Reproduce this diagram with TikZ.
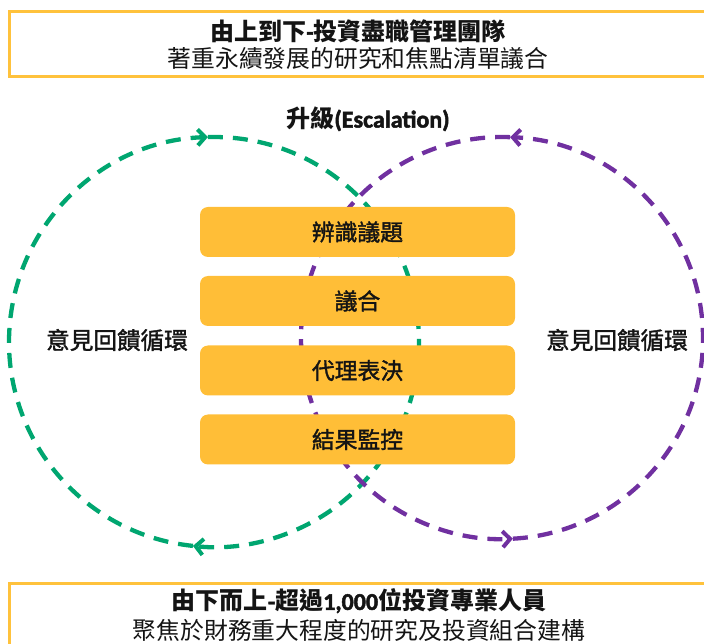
\documentclass[tikz,border=0pt]{standalone}
\usepackage{fontspec}
\usetikzlibrary{arrows.meta}
\newfontfamily\cjk{Noto Sans CJK TC}
\newfontfamily\cjkmed[FakeBold=1.6]{Noto Sans CJK TC}
\newfontfamily\calbold[FakeBold=2]{Carlito}
\definecolor{boxgold}{RGB}{255,190,55}
\definecolor{linegold}{RGB}{255,194,60}
\definecolor{loopgreen}{RGB}{0,166,112}
\definecolor{looppurple}{RGB}{112,48,160}
\definecolor{txt}{RGB}{20,20,20}
\tikzset{
  banner/.style={draw=linegold, line width=3pt},
  titleA/.style={text=txt, font=\cjk\bfseries\fontsize{24}{28}\selectfont, inner sep=0pt},
  titleB/.style={text=txt, font=\cjk\fontsize{23.8}{28}\selectfont, inner sep=0pt},
  stepbox/.style={fill=boxgold, rounded corners=8pt, minimum width=315pt, minimum height=50pt,
    inner sep=0pt, text=txt, font=\cjkmed\fontsize{22.8}{26}\selectfont},
  looplabel/.style={text=txt, font=\cjkmed\fontsize{23.6}{27}\selectfont, inner sep=0pt},
  loopline/.style={line width=4.3pt, dash pattern=on 15pt off 10pt,
    -{Straight Barb[length=7.5pt,width=16pt,line width=4pt]}},
}
\begin{document}
\begin{tikzpicture}[x=1pt,y=1pt]
\useasboundingbox (0,0) rectangle (704,643);
\begin{scope}
\clip (0,0) rectangle (704,643);
% banners
\draw[banner] (9,631) rectangle (730,566);
\draw[banner] (9,60) rectangle (730,-30);
% loops
\coordinate (gc) at (214,301);
\coordinate (pc) at (502,305);
\draw[loopline, loopgreen] ([shift={(264.1:205)}]gc) arc[start angle=264.1, end angle=91.7, radius=205];
\draw[loopline, loopgreen] ([shift={(91.7:205)}]gc) arc[start angle=91.7, end angle=-95.9, radius=205];
\draw[loopline, looppurple] ([shift={(-86.9:201)}]pc) arc[start angle=-86.9, end angle=87.7, radius=201];
\draw[loopline, looppurple] ([shift={(87.7:201)}]pc) arc[start angle=87.7, end angle=273.1, radius=201];
\end{scope}
% titles
\node[titleA] (t1) at (358,612) {由上到下{\calbold -}投資盡職管理團隊};
\node[titleB] (t2) at (358,585) {著重永續發展的研究和焦點清單議合};
\node[titleA] (b1) at (359,42) {由下而上{\calbold -}超過{\calbold 1,000}位投資專業人員};
\node[titleB] (b2) at (359,13) {聚焦於財務重大程度的研究及投資組合建構};
\node[titleA] (esc) at (368,524) {升級{\calbold (Escalation)}};
% steps
\node[stepbox] (s1) at (357.5,411) {辨識議題};
\node[stepbox] (s2) at (357.5,342) {議合};
\node[stepbox] (s3) at (357.5,272.5) {代理表決};
\node[stepbox] (s4) at (357.5,203.5) {結果監控};
% loop labels
\node[looplabel] (ll) at (117,303) {意見回饋循環};
\node[looplabel] (lr) at (617,303) {意見回饋循環};
\end{tikzpicture}
\end{document}
